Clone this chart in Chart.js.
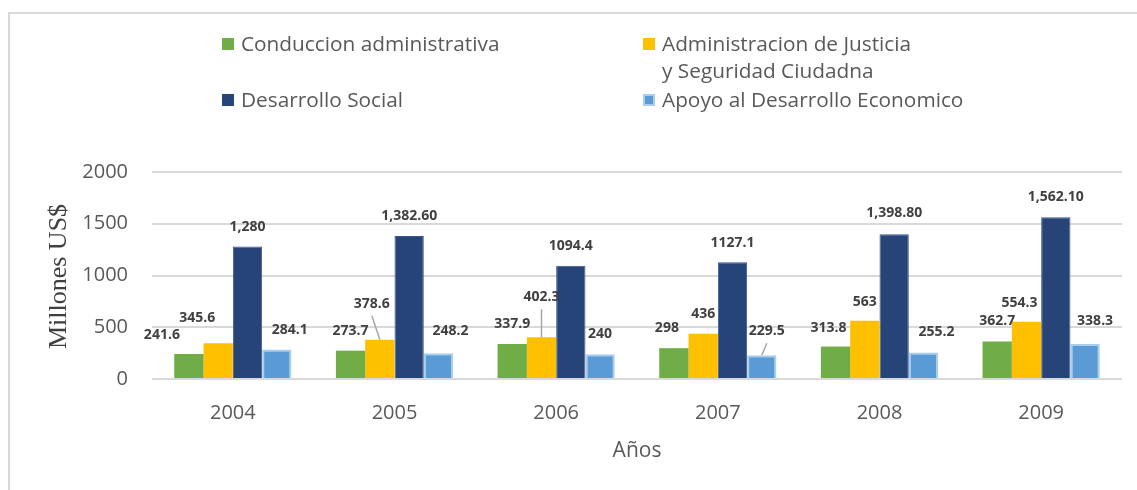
<!DOCTYPE html>
<html>
<head>
<meta charset="utf-8">
<script src="https://cdn.jsdelivr.net/npm/chart.js@4.4.1/dist/chart.umd.min.js"></script>
<style>
  html, body { margin: 0; padding: 0; background: #fff; }
  #wrap { position: relative; width: 1137px; height: 490px; overflow: hidden; }
  #frame { position: absolute; left: 8px; top: 12px; width: 1140px; height: 490px;
           border-top: 2px solid #d9d9d9; border-left: 2px solid #d9d9d9; pointer-events: none; }
  canvas { position: absolute; left: 0; top: 0; }
  .lg { position: absolute; font-family: 'Open Sans', sans-serif; font-size: 20.8px; color: #595959;
        line-height: 27px; white-space: nowrap; }
  .lg .sw { position: absolute; left: -19px; top: 8px; width: 12px; height: 12px; box-sizing: border-box; }
</style>
</head>
<body>
<div id="wrap">
  <canvas id="c" width="1137" height="490"></canvas>
  <div id="frame"></div>
  <div id="legend"></div>
</div>
<script>
// ---- data ----
const years = ['2004', '2005', '2006', '2007', '2008', '2009'];
const seriesNames = ['Conduccion administrativa', 'Administracion de Justicia\ny Seguridad Ciudadna', 'Desarrollo Social', 'Apoyo al Desarrollo Economico'];
const conduccion = [241.6, 273.7, 337.9, 298, 313.8, 362.7];
const justicia = [345.6, 378.6, 402.3, 436, 563, 554.3];
const social = [1280, 1382.6, 1094.4, 1127.1, 1398.8, 1562.1];
const economico = [284.1, 248.2, 240, 229.5, 255.2, 338.3];
const conduccionLabels = ['241.6', '273.7', '337.9', '298', '313.8', '362.7'];
const justiciaLabels = ['345.6', '378.6', '402.3', '436', '563', '554.3'];
const socialLabels = ['1,280', '1,382.60', '1094.4', '1127.1', '1,398.80', '1,562.10'];
const economicoLabels = ['284.1', '248.2', '240', '229.5', '255.2', '338.3'];
const yTicks = [0, 500, 1000, 1500, 2000];
const yTitle = 'Millones US$';
const xTitle = 'Años';

// ---- label placement (style, not data) ----
const labelOffsets = [
  [[-27, 1], [0, 0], [0, 0], [-7, 0], [-7, 1], [0, 0]],
  [[-21, -5], [-8, -16], [0, -20], [0, 0], [0, 1], [-7, 1]],
  [[0, 0], [0, 0], [0, 0], [0, 1], [0, -1], [0, 0]],
  [[13, 0], [12, -2], [0, 0], [5, -4], [13, -1], [10, -3]]
];
const leaders = [
  [false, false, false, false, false, false],
  [false, true, true, false, false, false],
  [false, false, false, false, false, false],
  [false, false, false, true, false, false]
];

const colors = ['#70ad47', '#ffc000', '#264478', '#5b9bd5'];
const borders = ['#70ad47', '#ffc000', '#3a5a8f', '#a9cdee'];
const borderWidths = [0, 0, 1, 2];
const values = [conduccion, justicia, social, economico];
const labelTexts = [conduccionLabels, justiciaLabels, socialLabels, economicoLabels];

// ---- HTML legend ----
const legendPos = [[241, 30], [662, 30], [241, 86], [662, 86]];
const legendEl = document.getElementById('legend');
seriesNames.forEach((name, i) => {
  const d = document.createElement('div');
  d.className = 'lg';
  d.style.left = legendPos[i][0] + 'px';
  d.style.top = legendPos[i][1] + 'px';
  const sw = document.createElement('span');
  sw.className = 'sw';
  sw.style.background = colors[i];
  if (i === 3) sw.style.border = '2px solid #a9cdee';
  d.appendChild(sw);
  name.split('\n').forEach((line, k) => {
    if (k > 0) d.appendChild(document.createElement('br'));
    d.appendChild(document.createTextNode(line));
  });
  legendEl.appendChild(d);
});

const labelPlugin = {
  id: 'barLabels',
  afterDatasetsDraw(chart) {
    const ctx = chart.ctx;
    ctx.save();
    ctx.font = 'bold 14px "Open Sans", sans-serif';
    ctx.fillStyle = '#404040';
    ctx.textAlign = 'center';
    ctx.textBaseline = 'middle';
    chart.data.datasets.forEach((ds, i) => {
      const meta = chart.getDatasetMeta(i);
      meta.data.forEach((bar, j) => {
        const off = labelOffsets[i][j];
        const lx = bar.x + off[0];
        const ly = bar.y - 20 + off[1];
        if (leaders[i][j]) {
          ctx.save();
          ctx.strokeStyle = '#a6a6a6';
          ctx.lineWidth = 1.5;
          ctx.beginPath();
          ctx.moveTo(lx, ly + 12);
          ctx.lineTo(bar.x, bar.y);
          ctx.stroke();
          ctx.restore();
        }
        ctx.fillText(labelTexts[i][j], lx, ly);
      });
    });
    ctx.restore();
  }
};

const yTitlePlugin = {
  id: 'yTitle',
  afterDraw(chart) {
    const ctx = chart.ctx;
    const a = chart.chartArea;
    ctx.save();
    ctx.translate(59, (a.top + a.bottom) / 2 + 1);
    ctx.rotate(-Math.PI / 2);
    ctx.font = '26px "Liberation Serif", "Times New Roman", serif';
    ctx.fillStyle = '#404040';
    ctx.textAlign = 'center';
    ctx.textBaseline = 'middle';
    ctx.fillText(yTitle, 0, 0);
    ctx.restore();
  }
};

new Chart(document.getElementById('c'), {
  type: 'bar',
  data: {
    labels: years,
    datasets: values.map((v, i) => ({
      label: seriesNames[i].replace('\n', ' '),
      data: v,
      backgroundColor: colors[i],
      borderColor: borders[i],
      borderWidth: borderWidths[i],
      categoryPercentage: 0.725,
      barPercentage: 1.0
    }))
  },
  options: {
    responsive: false,
    animation: false,
    devicePixelRatio: 1,
    layout: { padding: { left: 0, right: 15, top: 172, bottom: 0 } },
    plugins: { legend: { display: false }, tooltip: { enabled: false } },
    scales: {
      x: {
        grid: { display: false },
        border: { display: false },
        ticks: { color: '#595959', font: { family: 'Open Sans', size: 20 }, padding: 14 },
        title: { display: true, text: xTitle, color: '#595959', font: { family: 'Open Sans', size: 21 }, padding: { top: 0, bottom: 26 } },
        afterFit(s) { s.height = 111; }
      },
      y: {
        min: 0, max: 2000,
        afterBuildTicks(s) { s.ticks = yTicks.map(v => ({ value: v })); },
        grid: { color: '#d9d9d9', lineWidth: 2, drawTicks: false },
        border: { display: false },
        ticks: { color: '#595959', font: { family: 'Open Sans', size: 20 }, padding: 24, callback: v => String(v) },
        title: { display: false },
        afterFit(s) { s.width = 152; }
      }
    }
  },
  plugins: [labelPlugin, yTitlePlugin]
});
</script>
</body>
</html>
